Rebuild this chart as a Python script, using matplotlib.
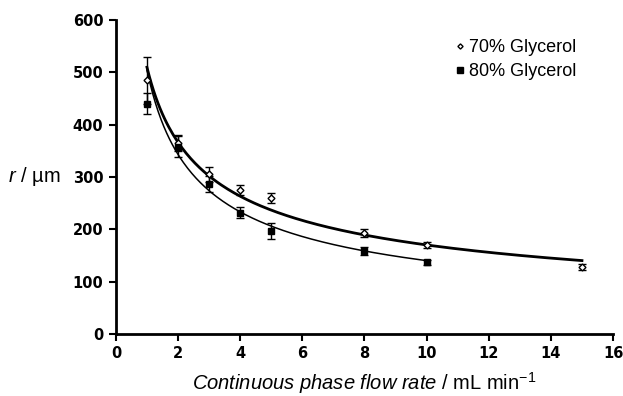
import numpy as np
import matplotlib
matplotlib.use("Agg")
import matplotlib.pyplot as plt

plt.rcParams["font.family"] = ["Liberation Sans", "DejaVu Sans"]
plt.rcParams["mathtext.fontset"] = "custom"
plt.rcParams["mathtext.rm"] = "Liberation Sans"
plt.rcParams["mathtext.it"] = "Liberation Sans:italic"
plt.rcParams["mathtext.bf"] = "Liberation Sans:bold"

# 70% glycerol
flow_70 = [1, 2, 3, 4, 5, 8, 10, 15]
r_70 = [485, 365, 305, 275, 260, 193, 170, 128]
err_70 = [45, 15, 15, 10, 10, 8, 6, 5]

# 80% glycerol
flow_80 = [1, 2, 3, 4, 5, 8, 10]
r_80 = [440, 358, 287, 232, 197, 158, 137]
err_80 = [20, 20, 15, 10, 15, 8, 5]

# power-law trend lines r = a * Q^b
fit_70 = (510, -0.477)
fit_80 = (505, -0.557)

fig = plt.figure(figsize=(6.23, 3.96), dpi=100)
ax = fig.add_axes([0.186, 0.157, 0.798, 0.792])

q = np.linspace(1, 15, 200)
ax.plot(q, fit_70[0] * q ** fit_70[1], color="black", lw=2.0)
q = np.linspace(1, 10, 200)
ax.plot(q, fit_80[0] * q ** fit_80[1], color="black", lw=1.1)

ax.errorbar(flow_70, r_70, yerr=err_70, fmt="D", ms=3.5, mfc="white", mec="black",
            mew=1.0, ecolor="black", elinewidth=1.0, capsize=3, capthick=1.0,
            label="70% Glycerol", zorder=3)
ax.errorbar(flow_80, r_80, yerr=err_80, fmt="s", ms=5, color="black",
            ecolor="black", elinewidth=1.0, capsize=3, capthick=1.0,
            label="80% Glycerol", zorder=3)

ax.set_xlim(0, 16)
ax.set_ylim(0, 600)
ax.set_xticks(range(0, 17, 2))
ax.set_yticks(range(0, 601, 100))
for s in ["top", "right"]:
    ax.spines[s].set_visible(False)
for s in ["left", "bottom"]:
    ax.spines[s].set_linewidth(2.0)
ax.tick_params(direction="out", length=5, width=1.5, labelsize=10.5, pad=4)
for lab in ax.get_xticklabels() + ax.get_yticklabels():
    lab.set_fontweight("bold")
    lab.set_family("DejaVu Sans")

ax.set_xlabel(r"$\it{Continuous\ phase\ flow\ rate}$ / mL min$^{-1}$", fontsize=14.5,
              labelpad=6)
fig.text(8 / 623, 1 - 176 / 396, r"$\it{r}$ / µm", fontsize=14.5,
         ha="left", va="center")

h, l = ax.get_legend_handles_labels()
ax.legend([hh[0] for hh in h], l, loc="upper left", bbox_to_anchor=(0.66, 0.975),
          frameon=False, fontsize=13, handletextpad=0.2, handlelength=0.6,
          labelspacing=0.4, markerscale=0.75, borderaxespad=0.2)

fig.savefig("out.png", dpi=100)
